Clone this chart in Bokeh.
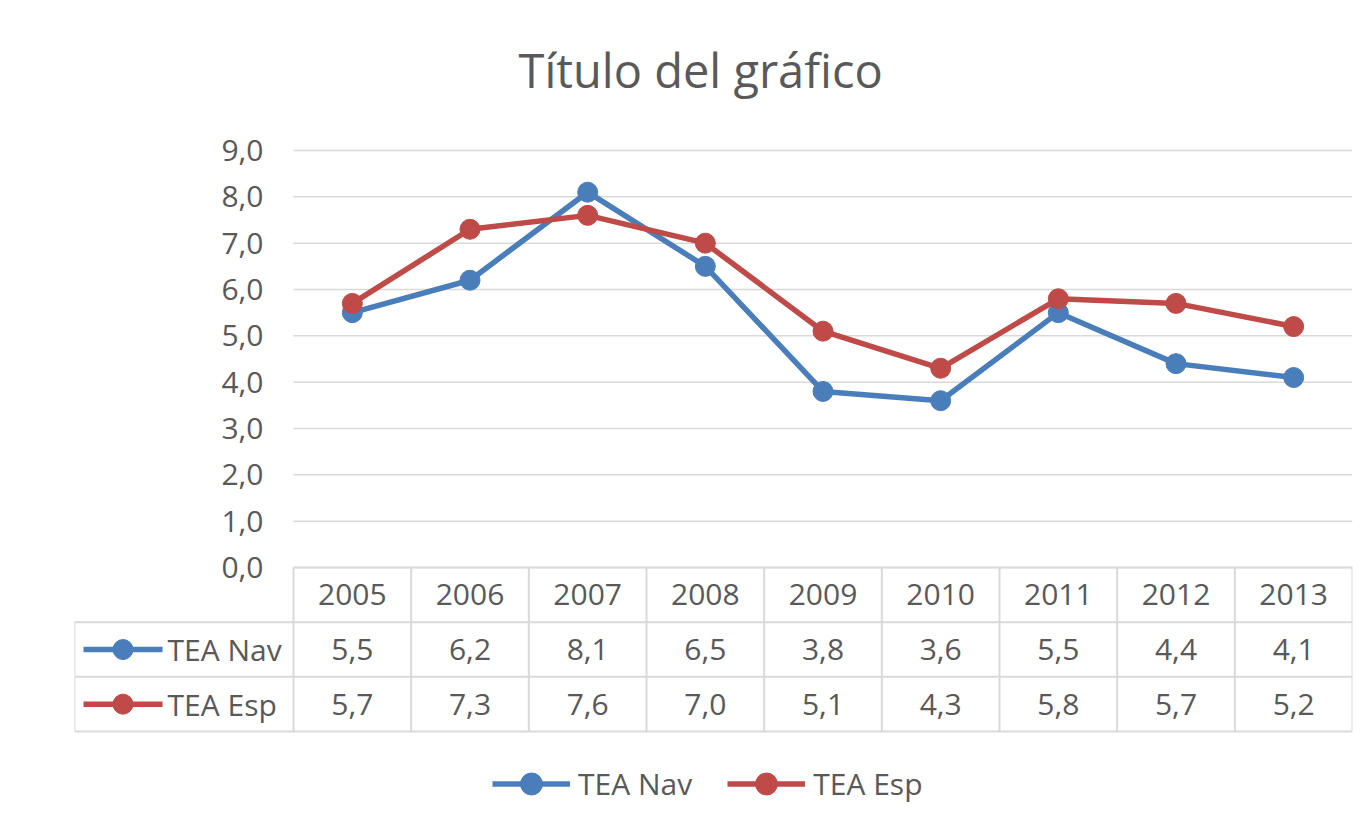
from bokeh.plotting import figure
from bokeh.models import Range1d, FixedTicker, Legend, LegendItem, CustomJSTickFormatter
from bokeh.core.properties import value
from bokeh.embed import file_html
from bokeh.resources import INLINE

# ---- data ----
years = ["2005", "2006", "2007", "2008", "2009", "2010", "2011", "2012", "2013"]
tea_nav = [5.5, 6.2, 8.1, 6.5, 3.8, 3.6, 5.5, 4.4, 4.1]
tea_esp = [5.7, 7.3, 7.6, 7.0, 5.1, 4.3, 5.8, 5.7, 5.2]
series_names = ["TEA Nav", "TEA Esp"]
y_ticks = [0, 1, 2, 3, 4, 5, 6, 7, 8, 9]

# ---- style ----
BLUE = "#4A7EBB"
RED = "#BE4B48"
TXT = "#595959"
GRID = "#d9d9d9"
FONT = "Open Sans"
FS = "30px"

n = len(years)
idx = list(range(n))

W, H = 1365, 830
FRAME_L, FRAME_R, NINE_Y, ZERO_Y = 74, 1352, 150, 567
FRAME_T = 120
unit_y = (ZERO_Y - NINE_Y) / 9            # pixels per value unit
col_w = (FRAME_R - 293) / n               # pixels per category
label_col = (293 - FRAME_L) / col_w       # row-label column width in category units
x0 = -0.5 - label_col
x1 = n - 0.5
y_bottom = -(H - ZERO_Y) / unit_y
y_top = 9 + (NINE_Y - FRAME_T) / unit_y

p = figure(width=W, height=H, x_range=Range1d(x0, x1), y_range=Range1d(y_bottom, y_top),
           x_axis_location=None, output_backend="svg", toolbar_location=None,
           min_border_left=FRAME_L, min_border_right=W - FRAME_R, min_border_top=FRAME_T,
           min_border_bottom=0, title="Título del gráfico")
p.outline_line_color = None
p.title.text_font = FONT
p.title.text_font_size = "47px"
p.title.text_font_style = "normal"
p.title.text_color = TXT
p.title.align = "left"
p.title.offset = 518 - FRAME_L
p.title.standoff = 38

ax = p.yaxis[0]
ax.fixed_location = -0.5
ax.ticker = FixedTicker(ticks=y_ticks)
ax.formatter = CustomJSTickFormatter(code="return tick.toFixed(1).replace('.', ',');")
ax.axis_line_color = None
ax.major_tick_line_color = None
ax.minor_tick_line_color = None
ax.major_tick_out = 0
ax.minor_tick_out = 0
ax.major_label_standoff = 30
ax.major_label_text_font = FONT
ax.major_label_text_font_size = FS
ax.major_label_text_color = TXT
p.ygrid.grid_line_color = None
p.xgrid.grid_line_color = None

# horizontal gridlines of the plot area
p.segment([-0.5] * len(y_ticks), y_ticks, [x1] * len(y_ticks), y_ticks,
          line_color=GRID, line_width=1.5)

for vals, col in ((tea_nav, BLUE), (tea_esp, RED)):
    p.line(idx, vals, line_color=col, line_width=5.5)
    p.scatter(idx, vals, size=20, fill_color=col, line_color=col)

# ---------------- data table (below the plot area) ----------------
ROW_H = 54.67 / unit_y
rows_y = [0, -ROW_H, -2 * ROW_H, -3 * ROW_H]

p.segment([-0.5, x0, x0, x0], rows_y, [x1] * 4, rows_y, line_color=GRID, line_width=2)
vx = [x0] + [i - 0.5 for i in range(n + 1)]
p.segment(vx, [rows_y[1]] + [0] * (n + 1), vx, [rows_y[3]] * (n + 2),
          line_color=GRID, line_width=2)

fmt = lambda v: f"{v:.1f}".replace(".", ",")
cells = [years, [fmt(v) for v in tea_nav], [fmt(v) for v in tea_esp]]
for r, texts in enumerate(cells):
    p.text(idx, [-(r + 0.5) * ROW_H] * n, text=texts, text_align="center",
           text_baseline="middle", text_font=value(FONT), text_font_size=FS,
           text_color=TXT)

items = []
for r, (name, col) in enumerate(zip(series_names, (BLUE, RED))):
    ry = -(r + 1.5) * ROW_H
    sw0 = x0 + 0.041 * label_col
    sw1 = x0 + 0.402 * label_col
    lr = p.line([sw0, sw1], [ry, ry], line_color=col, line_width=5.5)
    sr = p.scatter([(sw0 + sw1) / 2], [ry], size=20, fill_color=col, line_color=col)
    p.text([x0 + 0.425 * label_col], [ry], text=[name], text_align="left",
           text_baseline="middle", text_font=value(FONT), text_font_size=FS,
           text_color=TXT)
    items.append(LegendItem(label=name, renderers=[lr, sr]))

legend = Legend(items=items, orientation="horizontal", location=(492 - FRAME_L, 19),
                glyph_width=78, glyph_height=55, label_text_font=FONT,
                label_text_font_size=FS, label_text_color=TXT, spacing=35,
                label_standoff=8, padding=0, margin=0, border_line_color=None,
                background_fill_alpha=0)
p.add_layout(legend, "center")

open("out.html", "w").write(file_html(p, INLINE))
